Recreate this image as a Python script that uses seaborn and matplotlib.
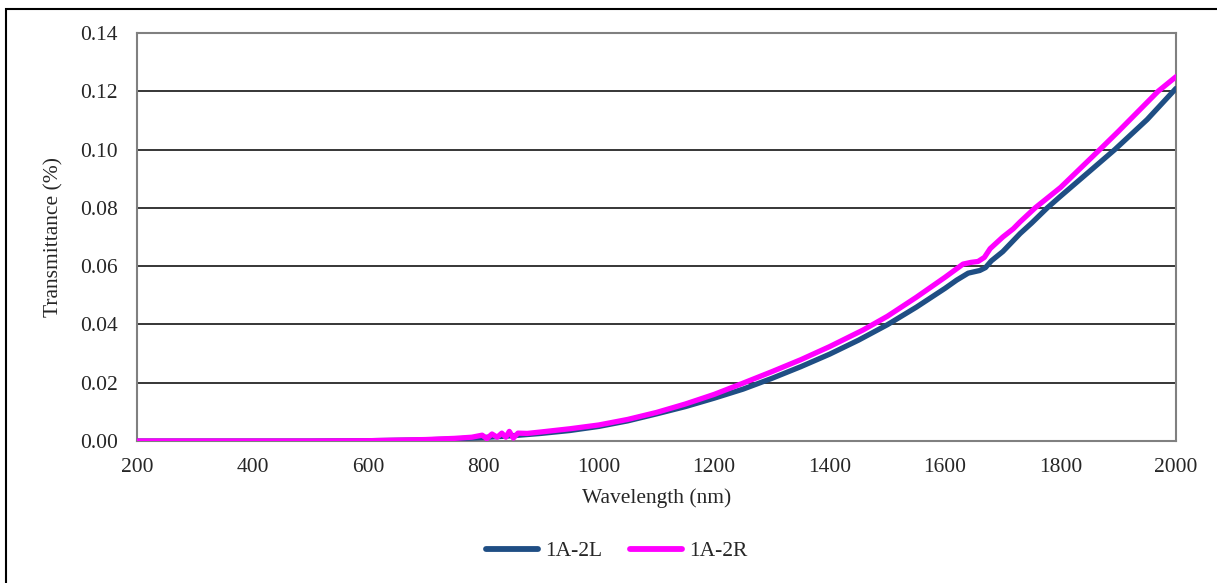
import numpy as np
import pandas as pd
import seaborn as sns
import matplotlib.pyplot as plt
from matplotlib.patches import Rectangle

# values
wl_left = [200, 300, 400, 500, 600, 700, 750, 800, 850, 900, 950, 1000, 1050,
           1100, 1150, 1200, 1250, 1300, 1350, 1400, 1450, 1500, 1550, 1600,
           1620, 1640, 1660, 1670, 1680, 1700, 1730, 1750, 1777, 1800, 1850,
           1894, 1950, 1993, 2000]
t_left = [0.0, 0.0, 0.0, 0.0, 0.0001, 0.0004, 0.0007, 0.0012, 0.0018, 0.0026,
          0.0036, 0.0050, 0.0069, 0.0093, 0.0118, 0.0147, 0.0178, 0.0215,
          0.0255, 0.0298, 0.0346, 0.0399, 0.0459, 0.0524, 0.0552, 0.0576,
          0.0585, 0.0595, 0.0618, 0.0650, 0.0712, 0.0748, 0.0800, 0.0840,
          0.0925, 0.1000, 0.1103, 0.1195, 0.1210]

wl_right = [200, 300, 400, 500, 600, 700, 750, 780, 798, 806, 815, 824, 832,
            839, 845, 852, 860, 876, 900, 950, 1000, 1050, 1100, 1150, 1200,
            1248, 1300, 1350, 1400, 1458, 1500, 1550, 1600, 1631, 1645, 1657,
            1668, 1678, 1700, 1718, 1730, 1756, 1800, 1868, 1900, 1969, 2000]
t_right = [0.0, 0.0, 0.0, 0.0, 0.0001, 0.0005, 0.0009, 0.0013, 0.0020, 0.0008,
           0.0024, 0.0013, 0.0027, 0.0013, 0.0033, 0.0010, 0.0027, 0.0026,
           0.0031, 0.0042, 0.0055, 0.0074, 0.0098, 0.0127, 0.0160, 0.0197,
           0.0238, 0.0279, 0.0324, 0.0381, 0.0428, 0.0493, 0.0562, 0.0607,
           0.0613, 0.0616, 0.0630, 0.0660, 0.0700, 0.0728, 0.0752, 0.0800,
           0.0870, 0.1000, 0.1062, 0.1200, 0.1250]

series_names = ['1A-2L', '1A-2R']
series_colors = ['#1F4E84', '#FF00FF']
x_ticks = [200, 400, 600, 800, 1000, 1200, 1400, 1600, 1800, 2000]
y_ticks = [0.00, 0.02, 0.04, 0.06, 0.08, 0.10, 0.12, 0.14]

df = pd.concat([
    pd.DataFrame({'Wavelength': wl_left, 'Transmittance': t_left, 'Sample': series_names[0]}),
    pd.DataFrame({'Wavelength': wl_right, 'Transmittance': t_right, 'Sample': series_names[1]}),
])

sns.set_style('white')
plt.rcParams['font.family'] = ['Liberation Serif', 'DejaVu Serif']
fs = 15.5

fig = plt.figure(figsize=(12.17, 5.83), dpi=100)
ax = fig.add_axes([137 / 1217, 1 - 441 / 583, (1176 - 137) / 1217, (441 - 33) / 583])

sns.lineplot(data=df, x='Wavelength', y='Transmittance', hue='Sample',
             palette=dict(zip(series_names, series_colors)), estimator=None,
             sort=False, linewidth=3.8, ax=ax, legend=False, zorder=3)

ax.set_xlim(200, 2000)
ax.set_ylim(0, 0.14)
ax.set_xticks(x_ticks)
ax.set_yticks(y_ticks)
ax.set_yticklabels([f'{v:.2f}' for v in y_ticks])
ax.tick_params(axis='both', direction='out', length=6, width=1.2, color='#808080',
               labelsize=fs)
ax.tick_params(axis='x', pad=6)
ax.tick_params(axis='y', pad=8)
for y in y_ticks[1:-1]:
    ax.axhline(y, color='black', linewidth=1.1, zorder=1)
for s in ax.spines.values():
    s.set_color('#808080')
    s.set_linewidth(1.5)

ax.set_xlabel('Wavelength (nm)', fontsize=fs, labelpad=8)
ax.set_ylabel('Transmittance (%)', fontsize=fs, labelpad=12)

handles = [plt.Line2D([], [], color=c, linewidth=4.2, solid_capstyle='round') for c in series_colors]
fig.legend(handles, series_names, loc='center', bbox_to_anchor=(617 / 1217, 1 - 551 / 583),
           ncol=2, frameon=False, fontsize=fs, handlelength=2.4, columnspacing=1.3,
           handletextpad=0.35)

# outer chart frame
fig.patches.append(Rectangle((6 / 1217, -0.1), 1.2, 1 - 9 / 583 + 0.1,
                             transform=fig.transFigure, fill=False,
                             edgecolor='black', linewidth=1.5))

fig.savefig('out.png', dpi=100)
